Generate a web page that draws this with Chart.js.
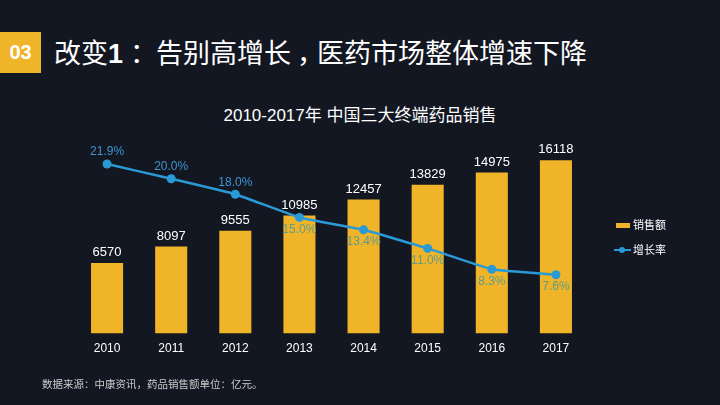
<!DOCTYPE html>
<html lang="zh">
<head>
<meta charset="UTF-8">
<title>中国三大终端药品销售</title>
<script src="https://cdn.jsdelivr.net/npm/chart.js"></script>
<style>
  html, body { margin: 0; padding: 0; }
  body {
    width: 720px; height: 405px; overflow: hidden; position: relative;
    background: #131722; color: #fff;
    font-family: "Liberation Sans", "Noto Sans CJK SC", sans-serif;
  }
  .badge {
    position: absolute; left: 0; top: 32px; width: 41px; height: 41px;
    background: #f0b429; color: #fff; font-weight: bold; font-size: 20px;
    line-height: 41px; text-align: center;
  }
  .heading {
    position: absolute; left: 54px; top: 33px; font-size: 27px; line-height: 38px;
    font-family: "Noto Sans CJK SC", sans-serif; white-space: nowrap;
  }
  .heading b { font-family: "Liberation Sans", sans-serif; }
  .heading .p { display: inline-block; box-sizing: border-box; white-space: nowrap; }
  .heading .colon { width: 33px; padding-left: 7px; }
  .heading .comma { width: 26px; padding-left: 6px; }
  .sub {
    position: absolute; left: 0; width: 720px; top: 104px; text-align: center;
    font-size: 17px; line-height: 24px;
  }
  .note {
    position: absolute; left: 42px; top: 376px; font-size: 10.5px; color: #c9c9c9;
    font-family: "Noto Sans CJK SC", sans-serif;
  }
  canvas { position: absolute; left: 0; top: 0; }
</style>
</head>
<body>
<div class="badge">03</div>
<div class="heading">改变<b>1</b><span class="p colon">：</span>告别高增长<span class="p comma">，</span>医药市场整体增速下降</div>
<div class="sub">2010-2017年&nbsp;中国三大终端药品销售</div>
<canvas id="chart" width="720" height="405"></canvas>
<div class="note">数据来源：中康资讯，药品销售额单位：亿元。</div>
<script>
const years = ['2010', '2011', '2012', '2013', '2014', '2015', '2016', '2017'];
const sales = [6570, 8097, 9555, 10985, 12457, 13829, 14975, 16118];
const growth = [21.9, 20.0, 18.0, 15.0, 13.4, 11.0, 8.3, 7.6];
const growthLabelAbove = [true, true, true, false, false, false, false, false];

const barColor = '#f0b429';
const lineColor = '#2a9ad6';

const labelPlugin = {
  id: 'labels',
  afterDatasetsDraw(chart) {
    const ctx = chart.ctx;
    ctx.save();
    ctx.textAlign = 'center';
    ctx.textBaseline = 'bottom';
    ctx.font = '13px "Liberation Sans", sans-serif';
    ctx.fillStyle = '#ffffff';
    chart.getDatasetMeta(1).data.forEach((bar, i) => {
      ctx.fillText(sales[i], bar.x, bar.y - 4);
    });
    ctx.font = '12px "Liberation Sans", sans-serif';
    chart.getDatasetMeta(0).data.forEach((pt, i) => {
      if (growthLabelAbove[i]) {
        ctx.fillStyle = '#3d95d2';
        ctx.textBaseline = 'bottom';
        ctx.fillText(growth[i].toFixed(1) + '%', pt.x, pt.y - 6);
      } else {
        ctx.fillStyle = '#5e9c8a';
        ctx.textBaseline = 'top';
        ctx.fillText(growth[i].toFixed(1) + '%', pt.x, pt.y + 6);
      }
    });
    // legend
    ctx.textAlign = 'left';
    ctx.textBaseline = 'middle';
    ctx.font = '11px "Noto Sans CJK SC", sans-serif';
    ctx.fillStyle = barColor;
    ctx.fillRect(616, 223, 14, 5);
    ctx.fillStyle = '#ffffff';
    ctx.fillText('销售额', 633, 225);
    ctx.strokeStyle = lineColor;
    ctx.lineWidth = 2;
    ctx.beginPath();
    ctx.moveTo(614, 250);
    ctx.lineTo(631, 250);
    ctx.stroke();
    ctx.fillStyle = lineColor;
    ctx.beginPath();
    ctx.arc(622, 250, 3, 0, Math.PI * 2);
    ctx.fill();
    ctx.fillStyle = '#ffffff';
    ctx.fillText('增长率', 633, 250);
    ctx.restore();
  }
};

new Chart(document.getElementById('chart'), {
  data: {
    labels: years,
    datasets: [
      {
        type: 'line',
        label: '增长率',
        data: growth,
        yAxisID: 'y2',
        borderColor: lineColor,
        backgroundColor: lineColor,
        borderWidth: 2.5,
        pointRadius: 4.5,
        pointBorderWidth: 0,
        tension: 0.1,
        order: 0
      },
      {
        type: 'bar',
        label: '销售额',
        data: sales,
        yAxisID: 'y',
        backgroundColor: barColor,
        categoryPercentage: 1,
        barPercentage: 0.5,
        order: 1
      }
    ]
  },
  options: {
    responsive: false,
    animation: false,
    layout: { padding: { left: 75, right: 132, top: 140, bottom: 41 } },
    plugins: {
      legend: { display: false },
      tooltip: { enabled: false }
    },
    scales: {
      x: {
        grid: { display: false, drawTicks: false },
        border: { display: false },
        ticks: {
          color: '#ffffff', padding: 8,
          font: { size: 12, family: '"Liberation Sans", sans-serif' }
        }
      },
      y: { display: false, min: 0, max: 18000 },
      y2: { display: false, min: 0, max: 25, position: 'right' }
    }
  },
  plugins: [labelPlugin]
});
</script>
</body>
</html>
